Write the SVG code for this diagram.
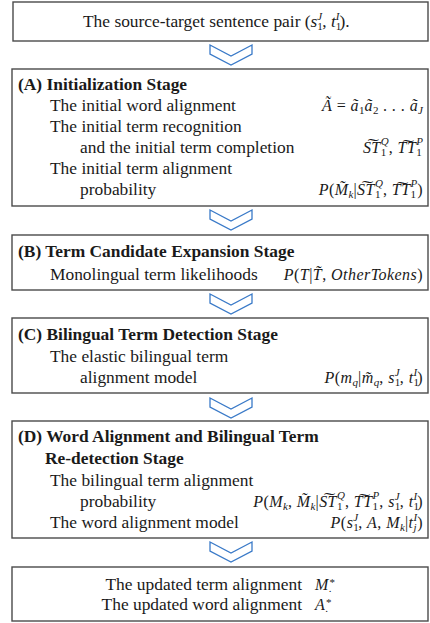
<svg xmlns="http://www.w3.org/2000/svg" width="430" height="623" viewBox="0 0 430 623">
<style>
.box{fill:#fff;stroke:#4a4a4a;stroke-width:1.4}
.chev{fill:#fff;stroke:#3a7ac8;stroke-width:1.3;stroke-linejoin:miter}
.t{font-family:"Liberation Serif","Times New Roman",serif;font-size:17.4px;fill:#1a1a1a}
.b{font-weight:bold}
.m{font-family:"Liberation Serif","Times New Roman",serif;font-style:italic;font-size:16px;letter-spacing:0.45px;fill:#1a1a1a}
.r{font-style:normal}
.s{font-size:11px;letter-spacing:0}
</style>
<rect width="430" height="623" fill="#fff"/>
<g id="connectors">
<polygon class="chev" points="210,45 231,56 252,45 252,54 231,65 210,54"/>
<polygon class="chev" points="210,210 231,221 252,210 252,219 231,230 210,219"/>
<polygon class="chev" points="210,294 231,305 252,294 252,303 231,314 210,303"/>
<polygon class="chev" points="210,398 231,409 252,398 252,407 231,418 210,407"/>
<polygon class="chev" points="210,542 231,553 252,542 252,551 231,562 210,551"/>
</g>
<g id="input">
<rect class="box" x="13" y="2" width="415" height="39"/>
<text class="t" x="83" y="27">The source-target sentence pair (<tspan font-style="italic">s</tspan><tspan class="s" dy="3">1</tspan><tspan class="s" font-style="italic" dx="-5.5" dy="-10">J</tspan><tspan dy="7">, </tspan><tspan font-style="italic">t</tspan><tspan class="s" dy="3">1</tspan><tspan class="s" font-style="italic" dx="-5.5" dy="-10">I</tspan><tspan dy="7">).</tspan></text>
</g>
<g id="stageA">
<rect class="box" x="12" y="69" width="416" height="137"/>
<text class="t b" x="18" y="90">(A) Initialization Stage</text>
<text class="t" x="50" y="111">The initial word alignment</text>
<text class="t" x="50" y="132">The initial term recognition</text>
<text class="t" x="80" y="153">and the initial term completion</text>
<text class="t" x="50" y="174">The initial term alignment</text>
<text class="t" x="80" y="195">probability</text>
<text class="m" x="423" y="111" text-anchor="end">A&#771;<tspan class="r"> = </tspan>a&#771;<tspan class="s r" dy="3">1</tspan><tspan dy="-3">a&#771;</tspan><tspan class="s r" dy="3">2</tspan><tspan class="r" dy="-3"> . . . </tspan>a&#771;<tspan class="s" dy="3">J</tspan></text>
<text class="m" x="423" y="153" text-anchor="end">S&#864;T<tspan class="s r" dy="3">1</tspan><tspan class="s" dx="-5.5" dy="-11">Q</tspan><tspan class="r" dy="8">, </tspan>T&#864;T<tspan class="s r" dy="3">1</tspan><tspan class="s" dx="-5.5" dy="-11">P</tspan></text>
<text class="m" x="423" y="195" text-anchor="end">P<tspan class="r">(</tspan>M&#771;<tspan class="s" dy="3">k</tspan><tspan class="r" dy="-3">|</tspan>S&#864;T<tspan class="s r" dy="3">1</tspan><tspan class="s" dx="-5.5" dy="-11">Q</tspan><tspan class="r" dy="8">, </tspan>T&#864;T<tspan class="s r" dy="3">1</tspan><tspan class="s" dx="-5.5" dy="-11">P</tspan><tspan class="r" dy="8">)</tspan></text>
</g>
<g id="stageB">
<rect class="box" x="12" y="235" width="416" height="55"/>
<text class="t b" x="18" y="257">(B) Term Candidate Expansion Stage</text>
<text class="t" x="50" y="280">Monolingual term likelihoods</text>
<text class="m" x="423" y="280" text-anchor="end">P<tspan class="r">(</tspan>T<tspan class="r">|</tspan>T&#771;<tspan class="r">, </tspan>OtherTokens<tspan class="r">)</tspan></text>
</g>
<g id="stageC">
<rect class="box" x="12" y="318" width="416" height="75"/>
<text class="t b" x="18" y="340">(C) Bilingual Term Detection Stage</text>
<text class="t" x="50" y="362">The elastic bilingual term</text>
<text class="t" x="80" y="383">alignment model</text>
<text class="m" x="423" y="383" text-anchor="end">P<tspan class="r">(</tspan>m<tspan class="s" dy="3">q</tspan><tspan class="r" dy="-3">|</tspan>m&#771;<tspan class="s" dy="3">q</tspan><tspan class="r" dy="-3">, </tspan>s<tspan class="s r" dy="3">1</tspan><tspan class="s" dx="-5.5" dy="-10">J</tspan><tspan class="r" dy="7">, </tspan>t<tspan class="s r" dy="3">1</tspan><tspan class="s" dx="-5.5" dy="-10">I</tspan><tspan class="r" dy="7">)</tspan></text>
</g>
<g id="stageD">
<rect class="box" x="12" y="421" width="416" height="117"/>
<text class="t b" x="18" y="442">(D) Word Alignment and Bilingual Term</text>
<text class="t b" x="45" y="464">Re-detection Stage</text>
<text class="t" x="50" y="486">The bilingual term alignment</text>
<text class="t" x="80" y="507">probability</text>
<text class="t" x="50" y="528">The word alignment model</text>
<text class="m" x="423" y="507" text-anchor="end">P<tspan class="r">(</tspan>M<tspan class="s" dy="3">k</tspan><tspan class="r" dy="-3">, </tspan>M&#771;<tspan class="s" dy="3">k</tspan><tspan class="r" dy="-3">|</tspan>S&#864;T<tspan class="s r" dy="3">1</tspan><tspan class="s" dx="-5.5" dy="-11">Q</tspan><tspan class="r" dy="8">, </tspan>T&#864;T<tspan class="s r" dy="3">1</tspan><tspan class="s" dx="-5.5" dy="-11">P</tspan><tspan class="r" dy="8">, </tspan>s<tspan class="s r" dy="3">1</tspan><tspan class="s" dx="-5.5" dy="-10">J</tspan><tspan class="r" dy="7">, </tspan>t<tspan class="s r" dy="3">1</tspan><tspan class="s" dx="-5.5" dy="-10">I</tspan><tspan class="r" dy="7">)</tspan></text>
<text class="m" x="423" y="528" text-anchor="end">P<tspan class="r">(</tspan>s<tspan class="s r" dy="3">1</tspan><tspan class="s" dx="-5.5" dy="-10">J</tspan><tspan class="r" dy="7">, </tspan>A<tspan class="r">, </tspan>M<tspan class="s" dy="3">k</tspan><tspan class="r" dy="-3">|</tspan>t<tspan class="s" dy="3">j</tspan><tspan class="s" dx="-3" dy="-10">I</tspan><tspan class="r" dy="7">)</tspan></text>
</g>
<g id="output">
<rect class="box" x="12" y="567" width="416" height="54"/>
<text class="t" x="302" y="590" text-anchor="end">The updated term alignment</text>
<text class="t" x="302" y="610" text-anchor="end">The updated word alignment</text>
<text class="m" x="315" y="590">M<tspan class="s r" dy="2">.</tspan><tspan class="s r" dx="-2" dy="-6">*</tspan></text>
<text class="m" x="315" y="610">A<tspan class="s r" dy="2">.</tspan><tspan class="s r" dx="-2" dy="-6">*</tspan></text>
</g>
</svg>
